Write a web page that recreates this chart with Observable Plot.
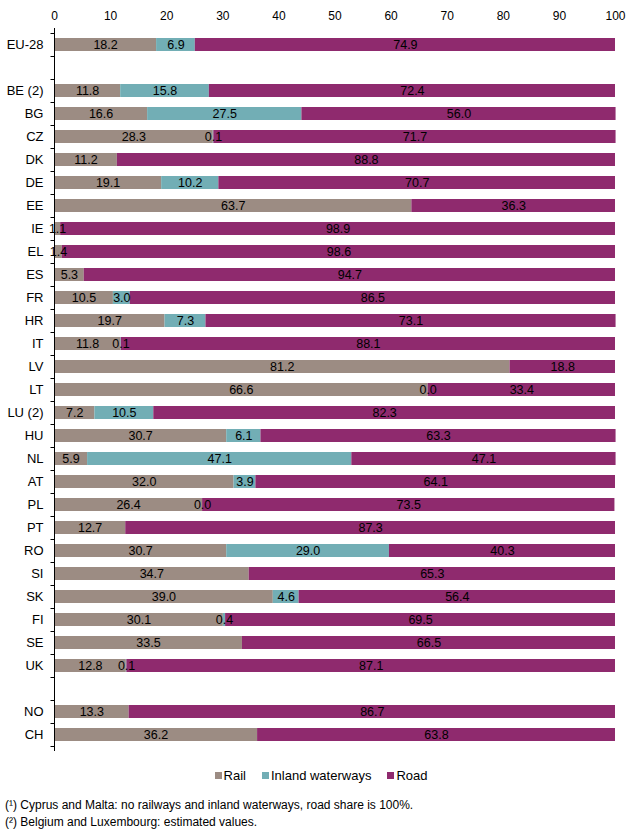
<!DOCTYPE html>
<html><head><meta charset="utf-8">
<script src="https://cdn.jsdelivr.net/npm/d3@7"></script>
<script src="https://cdn.jsdelivr.net/npm/@observablehq/plot@0.6"></script>
<style>
body{margin:0;background:#fff;font-family:"Liberation Sans",Arial,sans-serif;color:#000;}
#chart svg [aria-label^="y-axis"] text{font-size:13px;}
#legend{display:flex;justify-content:center;align-items:center;font-size:13px;height:16px;margin-top:7px;padding-left:10px;}
#legend span.item{display:flex;align-items:center;margin:0 8px;}
#legend span.sw{display:inline-block;width:7px;height:7px;margin-right:2px;}
#notes{font-size:12px;margin-top:14px;padding-left:5px;line-height:17px;}
</style></head><body>
<div id="chart"></div>
<div id="legend"></div>
<div id="notes"><div>(¹) Cyprus and Malta: no railways and inland waterways, road share is 100%.</div><div>(²) Belgium and Luxembourg: estimated values.</div></div>
<script>
const countries = ["EU-28"," ","BE (2)","BG","CZ","DK","DE","EE","IE","EL","ES","FR","HR","IT","LV","LT","LU (2)","HU","NL","AT","PL","PT","RO","SI","SK","FI","SE","UK","  ","NO","CH"];
const rail  = [18.2,null,11.8,16.6,28.3,11.2,19.1,63.7,1.1,1.4,5.3,10.5,19.7,11.8,81.2,66.6,7.2,30.7,5.9,32.0,26.4,12.7,30.7,34.7,39.0,30.1,33.5,12.8,null,13.3,36.2];
const water = [6.9,null,15.8,27.5,0.1,null,10.2,null,null,null,null,3.0,7.3,0.1,null,0.0,10.5,6.1,47.1,3.9,0.0,null,29.0,null,4.6,0.4,null,0.1,null,null,null];
const road  = [74.9,null,72.4,56.0,71.7,88.8,70.7,36.3,98.9,98.6,94.7,86.5,73.1,88.1,18.8,33.4,82.3,63.3,47.1,64.1,73.5,87.3,40.3,65.3,56.4,69.5,66.5,87.1,null,86.7,63.8];
const modes = ["Rail","Inland waterways","Road"];
const modeColors = ["#9c8c83","#72aeb5","#8f2a6e"];
const xTicks = [0,10,20,30,40,50,60,70,80,90,100];

const series = [rail, water, road];
const long = [];
countries.forEach((c, i) => {
  series.forEach((s, k) => {
    if (s[i] != null) long.push({country: c, mode: modes[k], value: s[i], label: s[i].toFixed(1)});
  });
});

function bandTicks(index, scales, values, dimensions) {
  const y0 = scales.y(countries[0]), y1 = scales.y(countries[1]);
  const step = y1 - y0;
  const xl = dimensions.marginLeft + 0.5;
  const g = d3.create("svg:g").attr("stroke", "#000").attr("stroke-width", 1);
  const ys = countries.map(c => scales.y(c));
  ys.push(ys[ys.length - 1] + step);
  for (const y of ys) {
    const yy = Math.round(y) + 0.5;
    g.append("line").attr("x1", xl - 4).attr("x2", xl).attr("y1", yy).attr("y2", yy);
  }
  return g.node();
}

const chart = Plot.plot({
  width: 632, height: 760,
  marginLeft: 54, marginRight: 17, marginTop: 28, marginBottom: 9,
  style: {fontFamily: "Liberation Sans, Arial, sans-serif", fontSize: "12px", color: "#000", background: "#fff"},
  x: {domain: [0, 100], axis: "top", ticks: xTicks, tickSize: 0, tickPadding: 9, label: null, tickFormat: d => String(d)},
  y: {domain: countries, padding: 0, tickSize: 0, tickPadding: 11, label: null},
  color: {domain: modes, range: modeColors},
  marks: [
    Plot.barX(long, {x: "value", y: "country", fill: "mode", insetTop: 5, insetBottom: 5}),
    Plot.text(long, Plot.stackX({x: "value", y: "country", z: "mode", text: "label", fill: "#000", fontSize: 12.5})),
    Plot.ruleX([0], {stroke: "#000"}),
    bandTicks
  ]
});
document.getElementById("chart").appendChild(chart);

const legend = d3.select("#legend");
modes.forEach((m, k) => {
  const it = legend.append("span").attr("class", "item");
  it.append("span").attr("class", "sw").style("background", modeColors[k]);
  it.append("span").text(m);
});
</script>
</body></html>
